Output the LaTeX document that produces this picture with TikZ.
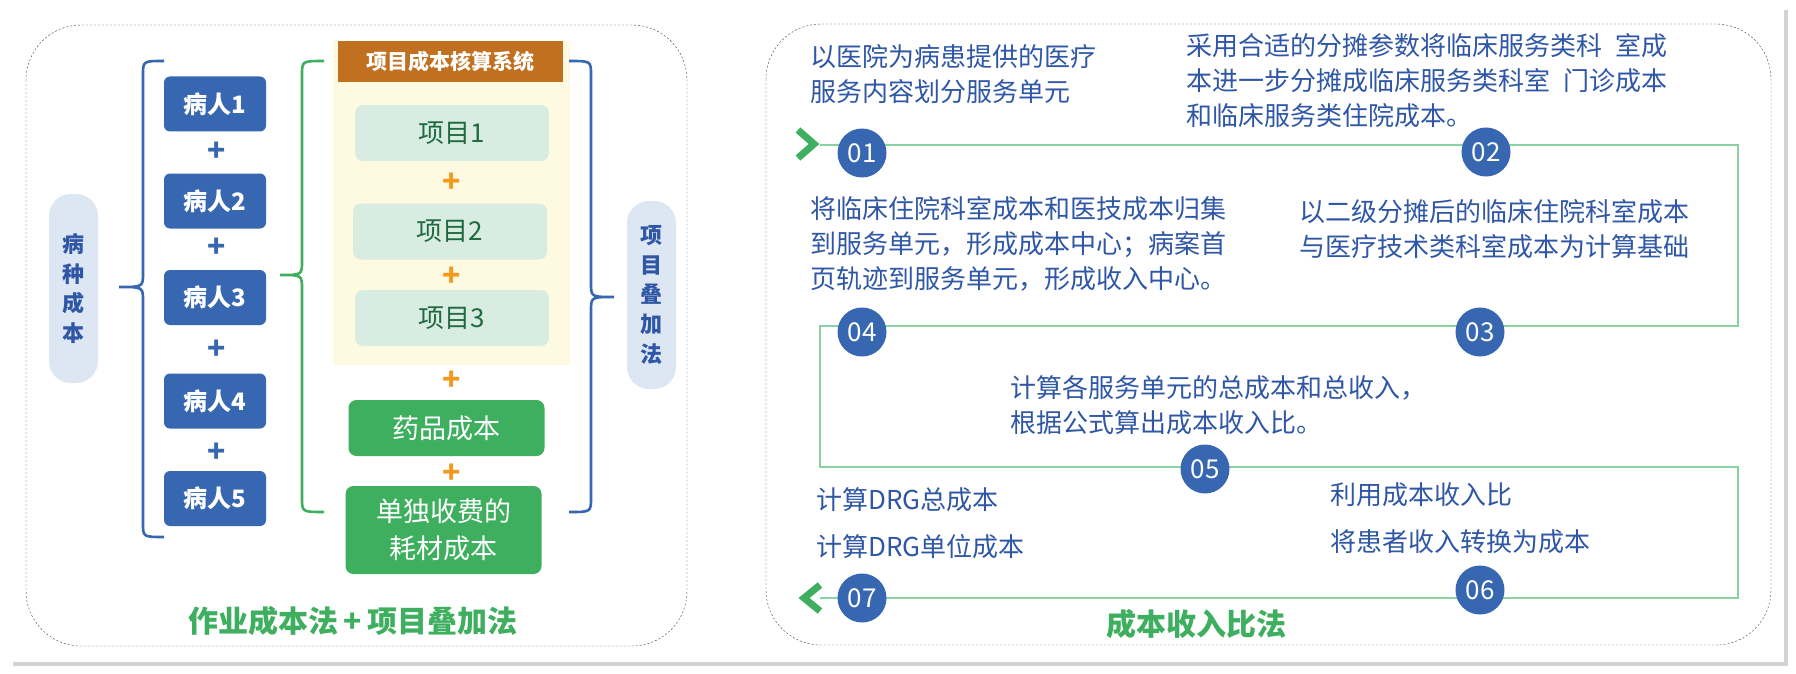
\documentclass[tikz,border=0pt]{standalone}
\usepackage{fontspec}
\setmainfont{Noto Sans CJK SC}
\usetikzlibrary{shadows}
\definecolor{boxblue}{HTML}{3767B1}
\definecolor{txtblue}{HTML}{2F57A6}
\definecolor{boxgreen}{HTML}{3DAF5E}
\definecolor{linegreen}{HTML}{8AD2A4}
\definecolor{barorange}{HTML}{C0701E}
\definecolor{plusorange}{HTML}{F39A1E}
\definecolor{panelyellow}{HTML}{FEFAE2}
\definecolor{itemteal}{HTML}{D8ECE2}
\definecolor{itemtxt}{HTML}{1F6A3E}
\definecolor{pillblue}{HTML}{DDE6F3}
\newcommand{\fs}[1]{\fontsize{#1}{\dimexpr#1pt*135/100\relax}\selectfont}
\newcommand{\curly}[7]{% colour, x end, x middle, x tip, top, tip, bottom
  \draw[#1,line width=2.6pt] (#2,#5) .. controls (#3,#5) .. (#3,#5+14) -- (#3,#6-14)
    .. controls (#3,#6) .. (#4,#6) .. controls (#3,#6) .. (#3,#6+14) -- (#3,#7-14)
    .. controls (#3,#7) .. (#2,#7);}
\tikzset{
  patient/.style={fill=boxblue,rounded corners=6pt,minimum width=102pt,minimum height=55pt,
    text=white,font=\fs{24}\bfseries},
  item/.style={fill=itemteal,rounded corners=8pt,minimum width=194pt,minimum height=56pt,
    text=itemtxt,font=\fs{26}},
  cost/.style={fill=boxgreen,rounded corners=8pt,minimum width=196pt,
    text=white,font=\fs{27},align=center},
  pill/.style={fill=pillblue,rounded corners=22pt,minimum width=49pt,text=txtblue,
    font=\fs{22}\bfseries,align=center},
  plusb/.style={text=boxblue,font=\fs{30}\bfseries},
  pluso/.style={text=plusorange,font=\fs{30}\bfseries},
  stepnum/.style={circle,fill=boxblue,minimum size=49pt,inner sep=0pt,text=white,font=\fs{26}},
  say/.style={anchor=north west,text=txtblue,font=\fs{26},align=left,inner sep=0pt},
  caption/.style={text=boxgreen,font=\fs{30}\bfseries},
  flow/.style={linegreen,line width=1.6pt},
  chev/.style={boxgreen,line width=7pt},
  panel/.style={black!75,dash pattern=on 2pt off 2pt,rounded corners=55pt}
}
\begin{document}
\begin{tikzpicture}[x=1pt,y=-1pt]
\useasboundingbox (0,0) rectangle (1796,674);

\fill[white,drop shadow={shadow xshift=4pt,shadow yshift=-4pt,opacity=0.35}] (9,6) rectangle (1784,662);
\draw[panel] (26,25) rectangle (687,646);
\draw[panel] (766,24) rectangle (1771,645);

% left part
\node[pill,minimum height=189pt] (ill) at (73.5,288.5) {病\\种\\成\\本};
\curly{boxblue}{164}{143}{119}{61}{287}{537}
\foreach \i/\y in {1/104,2/201,3/297.5,4/401,5/498.5}
  \node[patient] (p\i) at (215,\y) {病人\i};
\foreach \y in {152,248,350,453}
  \node[plusb] at (217,\y) {+};

\curly{boxgreen}{324}{302}{280}{61}{275}{512}
\fill[panelyellow] (333,41) rectangle (570,365);
\node[fill=barorange,minimum width=225pt,minimum height=41pt,text=white,font=\fs{21}\bfseries]
  (sys) at (450.5,61.5) {项目成本核算系统};
\node[item] (it1) at (452,133) {项目1};
\node[item] (it2) at (450,231.5) {项目2};
\node[item] (it3) at (452,318) {项目3};
\node[cost,minimum height=56pt] (drug) at (446.5,428) {药品成本};
\node[cost,minimum height=88pt] (mat) at (443.5,530) {单独收费的\\耗材成本};
\foreach \y in {183,277,381,474}
  \node[pluso] at (452,\y) {+};
\curly{boxblue}{569}{591}{614}{61}{297}{512}
\node[pill,minimum height=188pt] (proj) at (651.5,295) {项\\目\\叠\\加\\法};
\node[caption] (capl) at (353,621) {作业成本法\,+\,项目叠加法};

% right part
\draw[flow] (820,145) -- (1738,145) -- (1738,326) -- (820,326) -- (820,467)
  -- (1738,467) -- (1738,598) -- (820,598);
\draw[chev] (798,130) -- (814,144) -- (798,158);
\draw[chev] (820,585) -- (804,598) -- (820,611);
\node[stepnum] (s1) at (862,153) {01};
\node[stepnum] (s2) at (1486,152) {02};
\node[stepnum] (s3) at (1480,332) {03};
\node[stepnum] (s4) at (862,332) {04};
\node[stepnum] (s5) at (1205,469) {05};
\node[stepnum] (s6) at (1480,590) {06};
\node[stepnum] (s7) at (862,598) {07};

\begin{scope}[every node/.append style={say}]
\node (t1) at (810,44) {以医院为病患提供的医疗\\服务内容划分服务单元};
\node (t2) at (1186,33) {采用合适的分摊参数将临床服务类科\enspace 室成\\本进一步分摊成临床服务类科室\enspace 门诊成本\\和临床服务类住院成本。};
\node (t4) at (810,196) {将临床住院科室成本和医技成本归集\\到服务单元，形成成本中心；病案首\\页轨迹到服务单元，形成收入中心。};
\node (t3) at (1299,199) {以二级分摊后的临床住院科室成本\\与医疗技术类科室成本为计算基础};
\node (t5) at (1010,375) {计算各服务单元的总成本和总收入，\\根据公式算出成本收入比。};
\node (t7) at (816,487) {计算DRG总成本\\[12pt]计算DRG单位成本};
\node (t6) at (1330,482) {利用成本收入比\\[12pt]将患者收入转换为成本};
\end{scope}
\node[caption] (capr) at (1196,624) {成本收入比法};
\end{tikzpicture}
\end{document}
